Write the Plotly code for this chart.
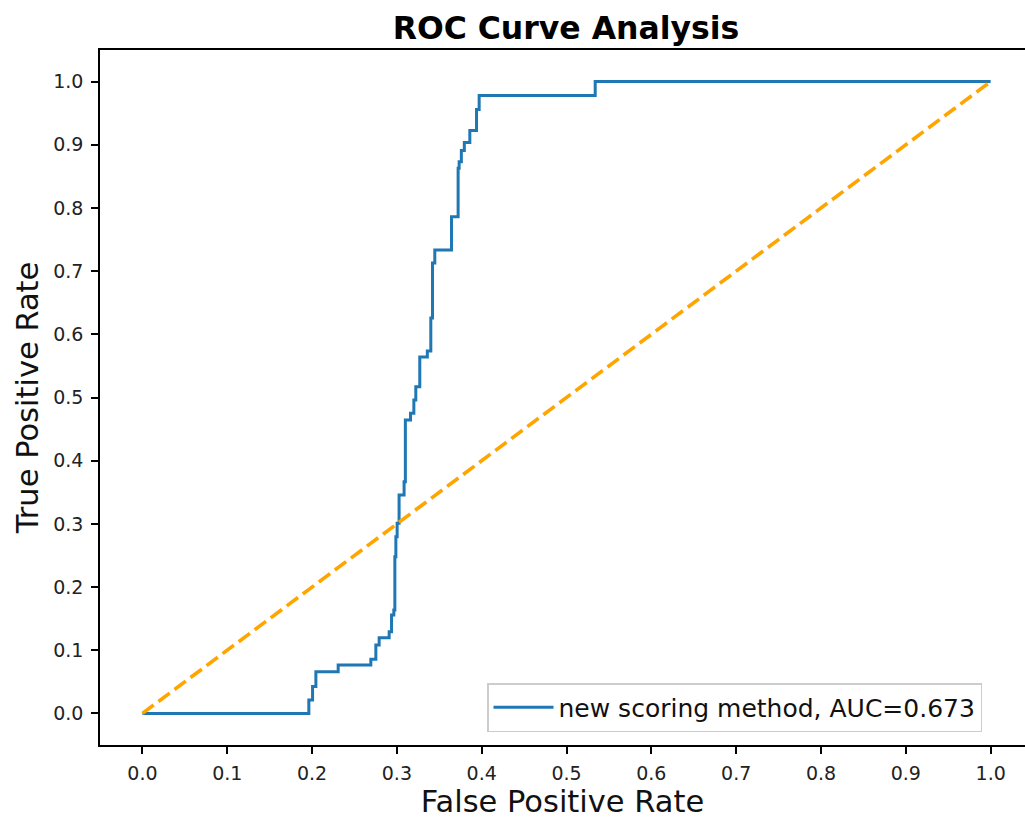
import plotly.graph_objects as go

# ROC curve step corners (horizontal first, then vertical rise)
fpr = [0.0, 0.1962, 0.2006, 0.2045, 0.2308, 0.2693, 0.2752, 0.2791, 0.2909, 0.2937,
       0.2964, 0.2976, 0.2988, 0.3003, 0.3026, 0.3085, 0.3100, 0.3161, 0.3200, 0.3223,
       0.3270, 0.3359, 0.3400, 0.3420, 0.3447, 0.3644, 0.3722, 0.3734, 0.3760, 0.3795,
       0.3860, 0.3939, 0.3970, 0.5338, 1.0]
tpr = [0.0, 0.0214, 0.0424, 0.0661, 0.0767, 0.0858, 0.1084, 0.1199, 0.1294, 0.1559,
       0.1638, 0.2481, 0.2797, 0.3009, 0.3457, 0.3668, 0.4644, 0.4750, 0.4960, 0.5171,
       0.5641, 0.5736, 0.6258, 0.7128, 0.7334, 0.7861, 0.8627, 0.8731, 0.8908, 0.9035,
       0.9225, 0.9560, 0.9780, 1.0, 1.0]
diag_x = [0.0, 1.0]
diag_y = [0.0, 1.0]
tick_vals = [0.0, 0.1, 0.2, 0.3, 0.4, 0.5, 0.6, 0.7, 0.8, 0.9, 1.0]
tick_text = ["0.0", "0.1", "0.2", "0.3", "0.4", "0.5", "0.6", "0.7", "0.8", "0.9", "1.0"]
auc_label = "new scoring method, AUC=0.673"

FONT = "DejaVu Sans"

fig = go.Figure()
fig.add_trace(go.Scatter(
    x=fpr, y=tpr, mode="lines", line_shape="hv",
    line=dict(color="#1f77b4", width=3),
    name=auc_label,
))
fig.add_trace(go.Scatter(
    x=diag_x, y=diag_y, mode="lines",
    line=dict(color="orange", width=3.6, dash="14px,6px"),
    showlegend=False,
))

axis_common = dict(
    showgrid=False, zeroline=False, automargin=False,
    showline=True, linecolor="black", linewidth=1.5,
    ticks="outside", ticklen=7, tickwidth=1.5, tickcolor="black",
    tickfont=dict(family=FONT, size=19, color="#222222"),
    tickvals=tick_vals, ticktext=tick_text,
)

fig.update_layout(
    width=1025, height=820,
    margin=dict(l=100, r=0, t=50, b=75, autoexpand=False),
    paper_bgcolor="white", plot_bgcolor="white",
    title=dict(text="<b>ROC Curve Analysis</b>", x=566/1025, xanchor="center",
               y=1 - 28/820, yanchor="middle",
               font=dict(family=FONT, size=31.5, color="black")),
    xaxis=dict(range=[-0.05, 1.0405], mirror=True, ticklabelstandoff=3,
               title=dict(text="False Positive Rate", standoff=4,
                          font=dict(family=FONT, size=30.5, color="#111111")),
               **axis_common),
    yaxis=dict(range=[-0.05, 1.05], mirror=False, ticklabelstandoff=4,
               title=dict(text="True Positive Rate", standoff=6,
                          font=dict(family=FONT, size=30.5, color="#111111")),
               **axis_common),
    legend=dict(x=(982 - 100) / 925, xanchor="right", y=(745 - 732) / 695, yanchor="bottom",
                itemwidth=60,
                bgcolor="rgba(255,255,255,0.8)", bordercolor="#cccccc", borderwidth=1.5,
                font=dict(family=FONT, size=25, color="#111111")),
)

fig.write_html("out.html",
               config={"displayModeBar": False},
               post_script="document.body.style.margin='0';document.body.style.overflow='hidden';")
